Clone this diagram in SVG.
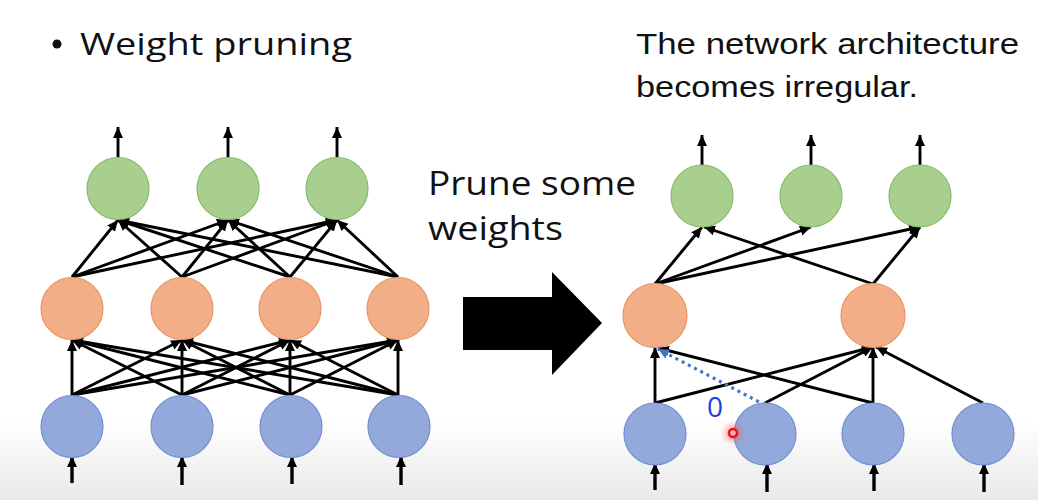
<svg xmlns="http://www.w3.org/2000/svg" width="1038" height="500" viewBox="0 0 1038 500">
<defs>
<linearGradient id="bg" x1="0" y1="0" x2="0" y2="1">
<stop offset="0" stop-color="#ffffff"/>
<stop offset="0.84" stop-color="#ffffff"/>
<stop offset="1" stop-color="#e9e9e9"/>
</linearGradient>
<radialGradient id="glow">
<stop offset="0" stop-color="#ff3030" stop-opacity="0.6"/>
<stop offset="1" stop-color="#ff6060" stop-opacity="0"/>
</radialGradient>
<marker id="ah" markerUnits="userSpaceOnUse" markerWidth="12" markerHeight="12" viewBox="0 0 12 12" refX="11" refY="6" orient="auto">
<path d="M0,1 L11,6 L0,11 Z" fill="#000"/>
</marker>
<marker id="ahb" markerUnits="userSpaceOnUse" markerWidth="12" markerHeight="12" viewBox="0 0 12 12" refX="11" refY="6" orient="auto">
<path d="M0,1 L11,6 L0,11 Z" fill="#4472c4"/>
</marker>
<style>
.g{fill:#a8cf8e;stroke:#86bb6a;stroke-width:1.2}
.o{fill:#f2ae87;stroke:#ea9563;stroke-width:1.2}
.b{fill:#93a9db;stroke:#6f8fd2;stroke-width:1.2}
.e{stroke:#000;stroke-width:2.9;fill:none;marker-end:url(#ah)}
.i{stroke:#000;stroke-width:3.4;fill:none;marker-end:url(#ah)}
.d{stroke:#4472c4;stroke-width:3.2;fill:none;stroke-dasharray:3 4;marker-end:url(#ahb)}
.t{font-family:"Open Sans","Noto Sans","DejaVu Sans",sans-serif;fill:#111}
.c{font-family:"Liberation Sans Narrow","Liberation Sans",Arial,sans-serif;fill:#111}
</style>
</defs>
<rect width="1038" height="500" fill="url(#bg)"/>

<g id="title">
<circle cx="57" cy="44" r="4.5" fill="#111"/>
<text class="t" x="80" y="55" font-size="31" textLength="272" lengthAdjust="spacingAndGlyphs">Weight pruning</text>
</g>
<g id="note">
<text class="c" x="636" y="54" font-size="30" textLength="383" lengthAdjust="spacingAndGlyphs">The network architecture</text>
<text class="c" x="636" y="97" font-size="30" textLength="282" lengthAdjust="spacingAndGlyphs">becomes irregular.</text>
</g>
<g id="prune-label">
<text class="t" x="428" y="195" font-size="33" textLength="208" lengthAdjust="spacingAndGlyphs">Prune some</text>
<text class="t" x="428" y="240" font-size="33" textLength="135" lengthAdjust="spacingAndGlyphs">weights</text>
</g>
<g id="big-arrow">
<path d="M463,297 L552,297 L552,272 L602,323 L552,375 L552,350 L463,350 Z" fill="#000"/>
</g>

<g id="connectors">
<line class="e" x1="118" y1="157" x2="118" y2="127"/>
<line class="e" x1="228" y1="157" x2="228" y2="127"/>
<line class="e" x1="337" y1="157" x2="337" y2="127"/>
<line class="e" x1="72" y1="277" x2="118" y2="220"/>
<line class="e" x1="72" y1="277" x2="228" y2="220"/>
<line class="e" x1="72" y1="277" x2="337" y2="220"/>
<line class="e" x1="182" y1="277" x2="118" y2="220"/>
<line class="e" x1="182" y1="277" x2="228" y2="220"/>
<line class="e" x1="182" y1="277" x2="337" y2="220"/>
<line class="e" x1="290" y1="277" x2="118" y2="220"/>
<line class="e" x1="290" y1="277" x2="228" y2="220"/>
<line class="e" x1="290" y1="277" x2="337" y2="220"/>
<line class="e" x1="398" y1="277" x2="118" y2="220"/>
<line class="e" x1="398" y1="277" x2="228" y2="220"/>
<line class="e" x1="398" y1="277" x2="337" y2="220"/>
<line class="e" x1="72" y1="395" x2="72" y2="340"/>
<line class="e" x1="72" y1="395" x2="182" y2="340"/>
<line class="e" x1="72" y1="395" x2="290" y2="340"/>
<line class="e" x1="72" y1="395" x2="398" y2="340"/>
<line class="e" x1="182" y1="395" x2="72" y2="340"/>
<line class="e" x1="182" y1="395" x2="182" y2="340"/>
<line class="e" x1="182" y1="395" x2="290" y2="340"/>
<line class="e" x1="182" y1="395" x2="398" y2="340"/>
<line class="e" x1="290" y1="395" x2="72" y2="340"/>
<line class="e" x1="290" y1="395" x2="182" y2="340"/>
<line class="e" x1="290" y1="395" x2="290" y2="340"/>
<line class="e" x1="290" y1="395" x2="398" y2="340"/>
<line class="e" x1="398" y1="395" x2="72" y2="340"/>
<line class="e" x1="398" y1="395" x2="182" y2="340"/>
<line class="e" x1="398" y1="395" x2="290" y2="340"/>
<line class="e" x1="398" y1="395" x2="398" y2="340"/>
<line class="i" x1="72" y1="483" x2="72" y2="456"/>
<line class="i" x1="182" y1="485" x2="182" y2="456"/>
<line class="i" x1="292" y1="484" x2="292" y2="456"/>
<line class="i" x1="401" y1="485" x2="401" y2="456"/>

<line class="e" x1="702" y1="165" x2="702" y2="135"/>
<line class="e" x1="811" y1="165" x2="811" y2="135"/>
<line class="e" x1="920" y1="165" x2="920" y2="135"/>
<line class="e" x1="655" y1="284" x2="702" y2="227"/>
<line class="e" x1="655" y1="284" x2="811" y2="227"/>
<line class="e" x1="655" y1="284" x2="920" y2="227"/>
<line class="e" x1="873" y1="284" x2="704" y2="227"/>
<line class="e" x1="873" y1="284" x2="920" y2="227"/>
<line class="e" x1="655" y1="403" x2="655" y2="347"/>
<line class="e" x1="655" y1="403" x2="873" y2="347"/>
<line class="e" x1="765" y1="403" x2="873" y2="347"/>
<line class="e" x1="873" y1="403" x2="658" y2="348"/>
<line class="e" x1="873" y1="403" x2="873" y2="347"/>
<line class="e" x1="983" y1="403" x2="876" y2="347"/>
<line class="d" x1="765" y1="405" x2="658" y2="349"/>
<line class="i" x1="655" y1="490" x2="655" y2="463"/>
<line class="i" x1="767" y1="492" x2="767" y2="463"/>
<line class="i" x1="874" y1="491" x2="874" y2="463"/>
<line class="i" x1="984" y1="492" x2="984" y2="463"/>
</g>

<g id="L-out1"><circle class="g" cx="118" cy="188.5" r="31"/></g>
<g id="L-out2"><circle class="g" cx="228" cy="188.5" r="31"/></g>
<g id="L-out3"><circle class="g" cx="337" cy="188.5" r="31"/></g>
<g id="L-hid1"><circle class="o" cx="72" cy="308.5" r="31"/></g>
<g id="L-hid2"><circle class="o" cx="182" cy="308.5" r="31"/></g>
<g id="L-hid3"><circle class="o" cx="290" cy="308.5" r="31"/></g>
<g id="L-hid4"><circle class="o" cx="398" cy="308.5" r="31"/></g>
<g id="L-in1"><circle class="b" cx="72" cy="426.5" r="31"/></g>
<g id="L-in2"><circle class="b" cx="182" cy="426.5" r="31"/></g>
<g id="L-in3"><circle class="b" cx="291" cy="426.5" r="31"/></g>
<g id="L-in4"><circle class="b" cx="399" cy="426.5" r="31"/></g>

<g id="R-out1"><circle class="g" cx="702" cy="196" r="31"/></g>
<g id="R-out2"><circle class="g" cx="811" cy="196" r="31"/></g>
<g id="R-out3"><circle class="g" cx="920" cy="196" r="31"/></g>
<g id="R-hid1"><circle class="o" cx="655" cy="315.5" r="32"/></g>
<g id="R-hid2"><circle class="o" cx="873" cy="315.5" r="32"/></g>
<g id="R-in1"><circle class="b" cx="655" cy="434" r="31"/></g>
<g id="R-in2"><circle class="b" cx="765" cy="434" r="31"/></g>
<g id="R-in3"><circle class="b" cx="873" cy="434" r="31"/></g>
<g id="R-in4"><circle class="b" cx="983" cy="434" r="31"/></g>

<g id="zero-label">
<text x="707" y="417" font-family="'Open Sans','Noto Sans',sans-serif" font-size="28" fill="#1d3fd6">0</text>
</g>
<g id="pointer">
<circle cx="733" cy="433" r="13" fill="url(#glow)"/>
<circle cx="733" cy="433" r="4" fill="#ffb0b0" stroke="#ee1111" stroke-width="2.6"/>
</g>
</svg>
